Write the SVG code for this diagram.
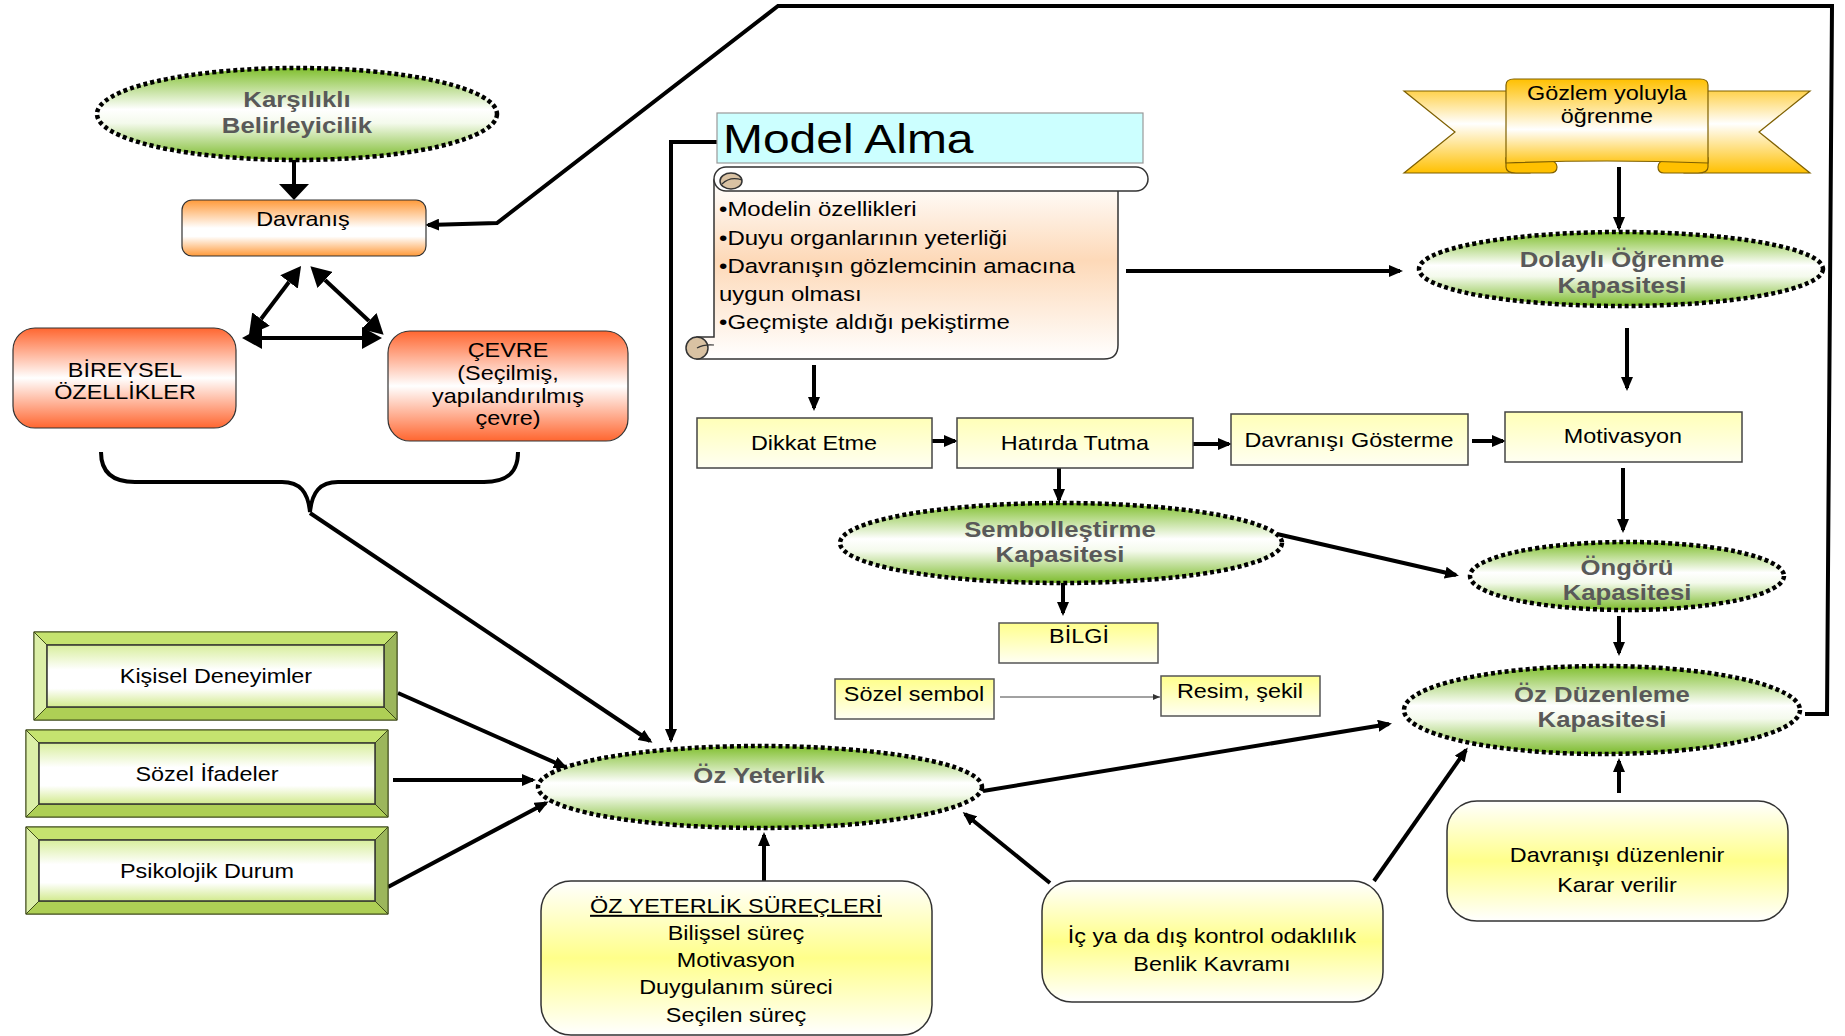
<svg xmlns="http://www.w3.org/2000/svg" width="1845" height="1036" viewBox="0 0 1845 1036">
<style>
text{font-family:"Liberation Sans",Arial,sans-serif;fill:#000}
.sx{transform-box:fill-box;transform-origin:center;transform:scaleX(1.17)}
.sxl{transform-box:fill-box;transform-origin:left center;transform:scaleX(1.17)}
.t20{font-size:20px;text-anchor:middle}
.el{font-size:22px;font-weight:bold;fill:#595959;text-anchor:middle}
.ell{fill:url(#gGreen);stroke:#000;stroke-width:4.5;stroke-dasharray:4 3}
.yb{fill:url(#gYel);stroke:#444;stroke-width:1.5}
.ys{fill:url(#gYelS);stroke:#555;stroke-width:1.5}
.rb{fill:url(#gYelR);stroke:#333;stroke-width:1.5}
.c{fill:none;stroke:#000;stroke-width:4}
.bt{fill:#C5E36F;stroke:#3E4B18;stroke-width:1}
.bl{fill:#DCEFA8;stroke:#3E4B18;stroke-width:1}
.br{fill:#9CB65C;stroke:#3E4B18;stroke-width:1}
.bb{fill:#AECF55;stroke:#3E4B18;stroke-width:1}
.bi{fill:url(#gFace);stroke:#333;stroke-width:1.5}
.sc{fill:#D9C2A3;stroke:#333;stroke-width:1.5}
.bul{font-size:20.5px}
</style>
<defs>
<linearGradient id="gGreen" x1="0" y1="0" x2="0" y2="1"><stop offset="0" stop-color="#80BF2E"/><stop offset="0.45" stop-color="#FFFFFF"/><stop offset="0.6" stop-color="#F4FAEC"/><stop offset="1" stop-color="#7CBB2C"/></linearGradient>
<linearGradient id="gOr" x1="0" y1="0" x2="0" y2="1"><stop offset="0" stop-color="#FF9A3A"/><stop offset="0.5" stop-color="#FFFFFF"/><stop offset="0.65" stop-color="#FFFFFF"/><stop offset="1" stop-color="#FF9A3A"/></linearGradient>
<linearGradient id="gRed" x1="0" y1="0" x2="0" y2="1"><stop offset="0" stop-color="#FF6630"/><stop offset="0.5" stop-color="#FFFFFF"/><stop offset="1" stop-color="#FF6630"/></linearGradient>
<linearGradient id="gYel" x1="0" y1="0" x2="0" y2="1"><stop offset="0" stop-color="#FFFFB8"/><stop offset="1" stop-color="#FFFFF2"/></linearGradient>
<linearGradient id="gYelS" x1="0" y1="0" x2="0" y2="1"><stop offset="0" stop-color="#FFFF8C"/><stop offset="1" stop-color="#FFFFF4"/></linearGradient>
<linearGradient id="gYelR" x1="0" y1="0" x2="0" y2="1"><stop offset="0" stop-color="#FFFFFF"/><stop offset="0.5" stop-color="#FFFF8A"/><stop offset="1" stop-color="#FFFFFF"/></linearGradient>
<linearGradient id="gFace" x1="0" y1="0" x2="0" y2="1"><stop offset="0" stop-color="#D8EE9C"/><stop offset="0.4" stop-color="#FFFFFF"/><stop offset="0.7" stop-color="#FFFFFF"/><stop offset="1" stop-color="#D2EA8E"/></linearGradient>
<linearGradient id="gPeach" x1="0" y1="0" x2="0" y2="1"><stop offset="0" stop-color="#FFFFFF"/><stop offset="0.45" stop-color="#FDD9B8"/><stop offset="1" stop-color="#FFFFFF"/></linearGradient>
<linearGradient id="gGold" x1="0" y1="0" x2="0" y2="1"><stop offset="0" stop-color="#FFC000"/><stop offset="0.6" stop-color="#FFFFFF"/><stop offset="1" stop-color="#FFC61A"/></linearGradient>
<linearGradient id="gWing" x1="0" y1="0" x2="0" y2="1"><stop offset="0" stop-color="#FFD24D"/><stop offset="0.4" stop-color="#FFFFFF"/><stop offset="1" stop-color="#FFC000"/></linearGradient>
<marker id="a" viewBox="0 0 14 12" refX="11" refY="6" markerWidth="14" markerHeight="12" markerUnits="userSpaceOnUse" orient="auto"><path d="M0,0L14,6L0,12z"/></marker>
<marker id="as" viewBox="0 0 7 6" refX="7" refY="3" markerWidth="7" markerHeight="6" markerUnits="userSpaceOnUse" orient="auto"><path d="M0,0L7,3L0,6z" fill="#333"/></marker>
<marker id="aL" viewBox="0 0 20 22" refX="0" refY="11" markerWidth="20" markerHeight="22" markerUnits="userSpaceOnUse" orient="auto-start-reverse"><path d="M0,0L20,11L0,22z"/></marker>
<marker id="aXL" viewBox="0 0 16 30" refX="0" refY="15" markerWidth="16" markerHeight="30" markerUnits="userSpaceOnUse" orient="auto"><path d="M0,0L16,15L0,30z"/></marker>
</defs>
<rect width="1845" height="1036" fill="#fff"/>

<g id="connectors">
<path class="c" d="M294,160 L294,184" stroke-width="13" marker-end="url(#aXL)"/>
<path class="c" d="M289,282 L261,319" stroke-width="6" marker-start="url(#aL)" marker-end="url(#aL)"/>
<path class="c" d="M325,280 L369,321" stroke-width="6" marker-start="url(#aL)" marker-end="url(#aL)"/>
<path class="c" d="M262,338 L362,338" stroke-width="6" marker-start="url(#aL)" marker-end="url(#aL)"/>
<path class="c" d="M101,452 C101,472 112,482 135,482 L282,482 C300,482 308,492 310,512 C312,492 320,482 338,482 L484,482 C508,482 518,472 518,452" stroke-width="5"/>
<path class="c" d="M310,513 L650,741" stroke-width="3.5" marker-end="url(#a)"/>
<path class="c" d="M1805,714 L1827,714 L1832,6 L778,6 L497,223 L428,225" stroke-width="3.5" marker-end="url(#a)"/>
<path class="c" d="M717,142 L671,142 L671,740" stroke-width="3.5" marker-end="url(#a)"/>
<path class="c" d="M1126,271 L1400,271" stroke-width="3.5" marker-end="url(#a)"/>
<path class="c" d="M814,365 L814,408" stroke-width="3.5" marker-end="url(#a)"/>
<path class="c" d="M932,441 L955,441" stroke-width="4" marker-end="url(#a)"/>
<path class="c" d="M1193,444 L1229,444" stroke-width="4" marker-end="url(#a)"/>
<path class="c" d="M1472,441 L1503,441" stroke-width="4" marker-end="url(#a)"/>
<path class="c" d="M1059,468 L1059,500" stroke-width="4" marker-end="url(#a)"/>
<path class="c" d="M1063,583 L1063,613" stroke-width="4" marker-end="url(#a)"/>
<path d="M1000,697 L1160,697" fill="none" stroke="#444" stroke-width="1" marker-end="url(#as)"/>
<path class="c" d="M1277,534 L1456,575" stroke-width="3.5" marker-end="url(#a)"/>
<path class="c" d="M1619,167 L1619,228" stroke-width="3.5" marker-end="url(#a)"/>
<path class="c" d="M1627,328 L1627,388" stroke-width="3.5" marker-end="url(#a)"/>
<path class="c" d="M1623,468 L1623,530" stroke-width="3.5" marker-end="url(#a)"/>
<path class="c" d="M1619,616 L1619,653" stroke-width="3.5" marker-end="url(#a)"/>
<path class="c" d="M983,791 L1389,724" stroke-width="3.5" marker-end="url(#a)"/>
<path class="c" d="M764,881 L764,835" stroke-width="3.5" marker-end="url(#a)"/>
<path class="c" d="M1050,883 L965,814" stroke-width="3.5" marker-end="url(#a)"/>
<path class="c" d="M1374,881 L1466,750" stroke-width="3.5" marker-end="url(#a)"/>
<path class="c" d="M1619,793 L1619,761" stroke-width="3.5" marker-end="url(#a)"/>
<path class="c" d="M398,693 L565,767" stroke-width="3.5" marker-end="url(#a)"/>
<path class="c" d="M393,780 L533,780" stroke-width="3.5" marker-end="url(#a)"/>
<path class="c" d="M388,887 L546,803" stroke-width="3.5" marker-end="url(#a)"/>
</g>

<g id="karsilikli">
<ellipse class="ell" cx="297" cy="114" rx="200" ry="46"/>
<text class="el sx" x="297" y="107">Karşılıklı<tspan x="297" dy="26">Belirleyicilik</tspan></text>
</g>

<g id="davranis">
<rect x="182" y="200" width="244" height="56" rx="10" fill="url(#gOr)" stroke="#333" stroke-width="1.2"/>
<text class="t20 sx" x="303" y="226" font-size="22">Davranış</text>
</g>

<g id="bireysel">
<rect x="13" y="328" width="223" height="100" rx="22" fill="url(#gRed)" stroke="#333" stroke-width="1.2"/>
<text class="t20 sx" x="125" y="377">BİREYSEL<tspan x="125" dy="22">ÖZELLİKLER</tspan></text>
</g>

<g id="cevre">
<rect x="388" y="331" width="240" height="110" rx="22" fill="url(#gRed)" stroke="#333" stroke-width="1.2"/>
<text class="t20 sx" x="508" y="357">ÇEVRE<tspan x="508" dy="23">(Seçilmiş,</tspan><tspan x="508" dy="23">yapılandırılmış</tspan><tspan x="508" dy="22">çevre)</tspan></text>
</g>

<g id="kisisel">
<rect x="34" y="632" width="363" height="88" fill="#C4E06C" stroke="#3E4B18"/>
<polygon class="bt" points="34,632 397,632 384,645 47,645"/>
<polygon class="bl" points="34,632 47,645 47,707 34,720"/>
<polygon class="br" points="397,632 397,720 384,707 384,645"/>
<polygon class="bb" points="34,720 397,720 384,707 47,707"/>
<rect class="bi" x="47" y="645" width="337" height="62"/>
<text class="t20 sx" x="216" y="683">Kişisel Deneyimler</text>
</g>

<g id="sozel-ifadeler">
<rect x="26" y="730" width="362" height="87" fill="#C4E06C" stroke="#3E4B18"/>
<polygon class="bt" points="26,730 388,730 375,743 39,743"/>
<polygon class="bl" points="26,730 39,743 39,804 26,817"/>
<polygon class="br" points="388,730 388,817 375,804 375,743"/>
<polygon class="bb" points="26,817 388,817 375,804 39,804"/>
<rect class="bi" x="39" y="743" width="336" height="61"/>
<text class="t20 sx" x="207" y="781">Sözel İfadeler</text>
</g>

<g id="psikolojik">
<rect x="26" y="827" width="362" height="87" fill="#C4E06C" stroke="#3E4B18"/>
<polygon class="bt" points="26,827 388,827 375,840 39,840"/>
<polygon class="bl" points="26,827 39,840 39,901 26,914"/>
<polygon class="br" points="388,827 388,914 375,901 375,840"/>
<polygon class="bb" points="26,914 388,914 375,901 39,901"/>
<rect class="bi" x="39" y="840" width="336" height="61"/>
<text class="t20 sx" x="207" y="878">Psikolojik Durum</text>
</g>

<g id="model-alma">
<rect x="717" y="113" width="426" height="50" fill="#CCFFFF" stroke="#999" stroke-width="1.2"/>
<text class="sxl" x="723" y="153" font-size="41">Model Alma</text>
</g>

<g id="model-ozellikleri">
<path d="M714,180 L1118,180 L1118,345 Q1118,359 1104,359 L697,359 L697,337 L714,337 Z" fill="url(#gPeach)" stroke="#333" stroke-width="1.5"/>
<rect x="714" y="167" width="434" height="24" rx="12" fill="#fff" stroke="#333" stroke-width="1.5"/>
<ellipse class="sc" cx="731" cy="181" rx="11" ry="8"/>
<path d="M722,184 Q730,176 742,180" fill="none" stroke="#333" stroke-width="1.2"/>
<circle class="sc" cx="697" cy="348" r="11"/>
<path d="M697,348 Q704,344 714,345" fill="none" stroke="#333" stroke-width="1.2"/>
<text class="sxl bul" x="719" y="216">•Modelin özellikleri</text>
<text class="sxl bul" x="719" y="245">•Duyu organlarının yeterliği</text>
<text class="sxl bul" x="719" y="273">•Davranışın gözlemcinin amacına</text>
<text class="sxl bul" x="719" y="301">uygun olması</text>
<text class="sxl bul" x="719" y="329">•Geçmişte aldığı pekiştirme</text>
</g>

<g id="gozlem">
<polygon points="1404,91 1530,91 1530,173 1404,173 1455,132" fill="url(#gWing)" stroke="#7F6000" stroke-width="1.2"/>
<polygon points="1810,91 1684,91 1684,173 1810,173 1759,132" fill="url(#gWing)" stroke="#7F6000" stroke-width="1.2"/>
<path d="M1506,158 L1506,167 Q1506,173 1516,173 L1550,173 Q1557,173 1557,167 Q1557,161 1548,160 Z" fill="#FFC000" stroke="#7F6000" stroke-width="1.2"/>
<path d="M1708,158 L1708,167 Q1708,173 1698,173 L1664,173 Q1658,173 1658,167 Q1658,161 1666,160 Z" fill="#FFC000" stroke="#7F6000" stroke-width="1.2"/>
<path d="M1506,85 Q1506,79 1514,79 L1700,79 Q1708,79 1708,85 L1708,163 Q1607,159 1506,163 Z" fill="url(#gGold)" stroke="#7F6000" stroke-width="1.2"/>
<text class="t20 sx" x="1607" y="100">Gözlem yoluyla<tspan x="1607" dy="23">öğrenme</tspan></text>
</g>

<g id="dolayli">
<ellipse class="ell" cx="1621" cy="269" rx="202" ry="37"/>
<text class="el sx" x="1622" y="267">Dolaylı Öğrenme<tspan x="1622" dy="26">Kapasitesi</tspan></text>
</g>

<g id="dikkat">
<rect class="yb" x="697" y="418" width="235" height="50"/>
<text class="t20 sx" x="814" y="450">Dikkat Etme</text>
</g>
<g id="hatirda">
<rect class="yb" x="957" y="418" width="236" height="50"/>
<text class="t20 sx" x="1075" y="450">Hatırda Tutma</text>
</g>
<g id="davranisi-gosterme">
<rect class="yb" x="1231" y="414" width="237" height="51"/>
<text class="t20 sx" x="1349" y="447">Davranışı Gösterme</text>
</g>
<g id="motivasyon">
<rect class="yb" x="1505" y="412" width="237" height="50"/>
<text class="t20 sx" x="1623" y="443">Motivasyon</text>
</g>

<g id="sembollestirme">
<ellipse class="ell" cx="1061" cy="543" rx="221" ry="40"/>
<text class="el sx" x="1060" y="537">Sembolleştirme<tspan x="1060" dy="25">Kapasitesi</tspan></text>
</g>

<g id="bilgi">
<rect class="ys" x="999" y="623" width="159" height="40"/>
<text class="t20 sx" x="1079" y="643">BİLGİ</text>
</g>
<g id="sozel-sembol">
<rect class="ys" x="835" y="679" width="159" height="40"/>
<text class="t20 sx" x="914" y="701">Sözel sembol</text>
</g>
<g id="resim-sekil">
<rect class="ys" x="1161" y="676" width="159" height="40"/>
<text class="t20 sx" x="1240" y="698">Resim, şekil</text>
</g>

<g id="ongoru">
<ellipse class="ell" cx="1627" cy="576" rx="157" ry="34"/>
<text class="el sx" x="1627" y="575">Öngörü<tspan x="1627" dy="25">Kapasitesi</tspan></text>
</g>

<g id="oz-duzenleme">
<ellipse class="ell" cx="1602" cy="710" rx="198" ry="44"/>
<text class="el sx" x="1602" y="702">Öz Düzenleme<tspan x="1602" dy="25">Kapasitesi</tspan></text>
</g>

<g id="oz-yeterlik">
<ellipse class="ell" cx="760" cy="787" rx="222" ry="41"/>
<text class="el sx" x="759" y="783" font-size="24">Öz Yeterlik</text>
</g>

<g id="oz-yeterlik-surecleri">
<rect class="rb" x="541" y="881" width="391" height="154" rx="30"/>
<text class="t20 sx" x="736" y="913"><tspan text-decoration="underline">ÖZ YETERLİK SÜREÇLERİ</tspan><tspan x="736" dy="27">Bilişsel süreç</tspan><tspan x="736" dy="27">Motivasyon</tspan><tspan x="736" dy="27">Duygulanım süreci</tspan><tspan x="736" dy="28">Seçilen süreç</tspan></text>
</g>

<g id="kontrol-odaklilik">
<rect class="rb" x="1042" y="881" width="341" height="121" rx="30"/>
<text class="t20 sx" x="1212" y="943">İç ya da dış kontrol odaklılık<tspan x="1212" dy="28">Benlik Kavramı</tspan></text>
</g>

<g id="davranisi-duzenlenir">
<rect class="rb" x="1447" y="801" width="341" height="120" rx="30"/>
<text class="t20 sx" x="1617" y="862">Davranışı düzenlenir<tspan x="1617" dy="30">Karar verilir</tspan></text>
</g>
</svg>
